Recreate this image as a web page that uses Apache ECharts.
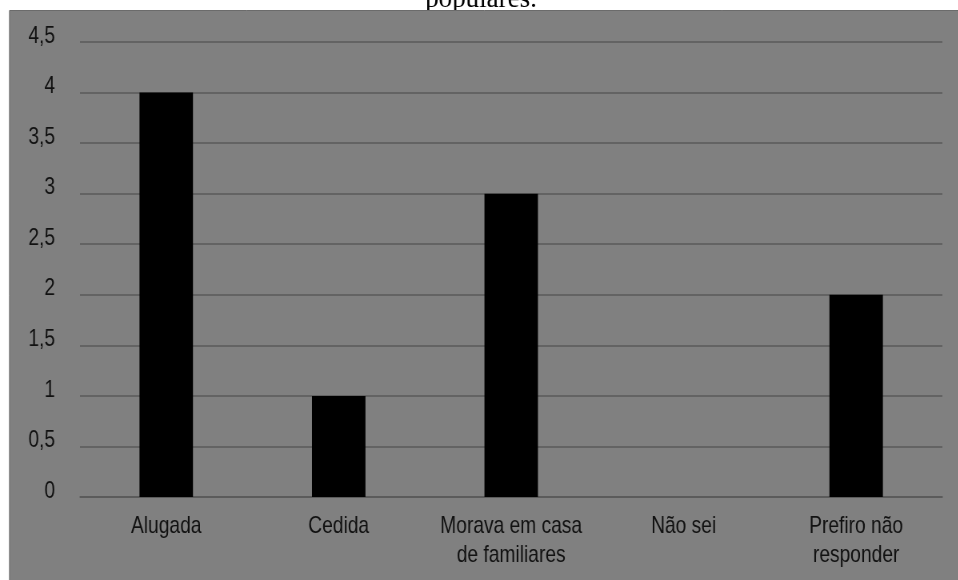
<!DOCTYPE html>
<html>
<head>
<meta charset="utf-8">
<script src="https://cdn.jsdelivr.net/npm/echarts@6/dist/echarts.min.js"></script>
<style>
  html, body { margin: 0; padding: 0; background: #ffffff; overflow: hidden; width: 958px; height: 580px; }
  /* narrow-type look: the chart is laid out wider and squeezed horizontally */
  #chart { width: 1198px; height: 580px; transform: scaleX(0.8); transform-origin: 0 0; }
</style>
</head>
<body>
<div id="chart"></div>
<script>
// Situação de moradia anterior
const categories = ['Alugada', 'Cedida', 'Morava em casa\nde familiares', 'Não sei', 'Prefiro não\nresponder'];
const values = [4, 1, 3, 0, 2];
const yTicks = { min: 0, max: 4.5, interval: 0.5 };
const titleText = 'populares.';

const SX = 0.8; // horizontal squeeze applied to the container
const labelFont = '"Liberation Sans", Arial, sans-serif';
const fmt = v => String(v).replace('.', ',');

const chart = echarts.init(document.getElementById('chart'), null, { renderer: 'canvas' });
chart.setOption({
  backgroundColor: '#ffffff',
  animation: false,
  graphic: [
    {
      type: 'text',
      z: 1,
      zlevel: 0,
      silent: true,
      x: 481 / SX,
      y: -14,
      scaleX: 1 / SX,
      style: {
        text: titleText,
        x: 0,
        y: 0,
        align: 'center',
        verticalAlign: 'top',
        font: '27px "Liberation Serif", "Times New Roman", serif',
        fill: '#000000'
      }
    },
    {
      type: 'rect',
      z: 2,
      silent: true,
      shape: { x: 9.5 / SX, y: 10.5, width: 1300, height: 580 },
      style: { fill: '#808080', stroke: '#6b6b6b', lineWidth: 1 }
    }
  ],
  grid: { left: 80 / SX, right: 16 / SX, top: 42, bottom: 83, containLabel: false, z: 3 },
  xAxis: {
    type: 'category',
    data: categories,
    z: 3,
    axisLine: { show: true, lineStyle: { color: '#5a5a5a', width: 1.5 } },
    axisTick: { show: false },
    axisLabel: {
      interval: 0,
      margin: 15,
      color: '#111111',
      fontFamily: labelFont,
      fontSize: 24,
      lineHeight: 29
    }
  },
  yAxis: {
    type: 'value',
    z: 3,
    min: yTicks.min,
    max: yTicks.max,
    interval: yTicks.interval,
    axisLine: { show: false },
    axisTick: { show: false },
    splitLine: { show: true, lineStyle: { color: '#5a5a5a', width: 1.5 } },
    axisLabel: {
      margin: 25 / SX,
      color: '#111111',
      fontFamily: labelFont,
      fontSize: 24,
      verticalAlign: 'bottom',
      lineHeight: 12,
      formatter: fmt
    }
  },
  series: [{
    type: 'bar',
    z: 4,
    data: values,
    barWidth: '31%',
    itemStyle: { color: '#000000' }
  }]
});
</script>
</body>
</html>
